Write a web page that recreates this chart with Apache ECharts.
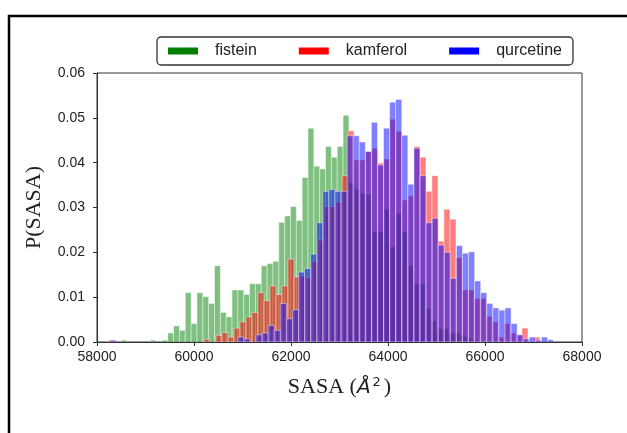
<!DOCTYPE html>
<html>
<head>
<meta charset="utf-8">
<script src="https://cdn.jsdelivr.net/npm/echarts@6/dist/echarts.min.js"></script>
<style>
html, body { margin: 0; padding: 0; background: #fff; }
#chart { width: 627px; height: 433px; }
</style>
</head>
<body>
<div id="chart"></div>
<script>
// histogram bins: first edge and width (SASA units), one set per molecule
var fisteinStart = 58495, fisteinWidth = 120.5;
var kamferolStart = 58227, kamferolWidth = 123.7;
var qurcetineStart = 58274, qurcetineWidth = 125.2;

var fistein = [
	0.0004, 0, 0, 0, 0, 0.0004, 0, 0.0004, 0.002, 0.0036,
	0.0026, 0.011, 0.0041, 0.011, 0.0101, 0.0086, 0.017, 0.0066, 0.0056, 0.0116,
	0.0116, 0.0106, 0.013, 0.013, 0.017, 0.0175, 0.018, 0.0267, 0.0281, 0.0302,
	0.0271, 0.0367, 0.0477, 0.0392, 0.0386, 0.0436, 0.0412, 0.0436, 0.0506, 0.0356,
	0.0341, 0.0332, 0.0328, 0.0246, 0.0246, 0.0296, 0.0212, 0.0287, 0.0246, 0.0171,
	0.013, 0.013, 0.0075, 0.0047, 0.003, 0.003, 0.002, 0.002, 0.0014, 0.001,
	0.0005
];
var kamferol = [
	0.0004, 0, 0, 0, 0, 0, 0, 0, 0, 0,
	0, 0, 0, 0, 0, 0, 0.0006, 0, 0.0015, 0.0021,
	0.0011, 0.0031, 0.0045, 0.0056, 0.0066, 0.011, 0.0092, 0.0125, 0.0106, 0.0125,
	0.0185, 0.0145, 0.0148, 0.0143, 0.018, 0.0228, 0.0302, 0.0302, 0.0312, 0.0371,
	0.0471, 0.0406, 0.0406, 0.0425, 0.0432, 0.0399, 0.0408, 0.0497, 0.047, 0.0317,
	0.0326, 0.0436, 0.0412, 0.0336, 0.0371, 0.0225, 0.0296, 0.0274, 0.0188, 0.0116,
	0.0116, 0.0097, 0.0097, 0.0057, 0.0045, 0.0011, 0.0041, 0.002, 0.0016, 0.0031,
	0, 0.0011
];
var qurcetine = [
	0.0004, 0, 0, 0, 0, 0, 0, 0, 0, 0,
	0, 0, 0, 0, 0, 0, 0, 0, 0, 0,
	0, 0.0011, 0.0007, 0, 0.0016, 0.002, 0.0037, 0.0026, 0.0086, 0.0052,
	0.0072, 0.0156, 0.0164, 0.0196, 0.0266, 0.0336, 0.034, 0.0336, 0.0336, 0.046,
	0.046, 0.0446, 0.0425, 0.049, 0.0395, 0.0477, 0.0535, 0.0541, 0.0461, 0.0352,
	0.0432, 0.0371, 0.0266, 0.0276, 0.0216, 0.02, 0.0142, 0.0215, 0.0198, 0.0201,
	0.0136, 0.011, 0.0086, 0.0076, 0.0071, 0.0076, 0.0041, 0.0016, 0.0007, 0.0011,
	0.0004, 0.0011, 0.0005
];

var xTicks = [58000, 60000, 62000, 64000, 66000, 68000];

function toBins(start, width, values) {
	var out = [];
	for (var i = 0; i < values.length; i++) {
		if (values[i] > 0) {
			out.push([start + i * width, start + (i + 1) * width, values[i]]);
		}
	}
	return out;
}

function histSeries(name, color, fill, data) {
	return {
		name: name,
		type: 'custom',
		data: data,
		itemStyle: { color: color },
		encode: { x: [0, 1], y: 2 },
		clip: true,
		renderItem: function (params, api) {
			var top = api.coord([api.value(0), api.value(2)]);
			var bottom = api.coord([api.value(1), 0]);
			return {
				type: 'rect',
				shape: { x: top[0], y: top[1], width: bottom[0] - top[0], height: bottom[1] - top[1] },
				style: { fill: fill, stroke: 'rgba(255,255,255,0.55)', lineWidth: 0.8 }
			};
		}
	};
}

var chart = echarts.init(document.getElementById('chart'));
var option = {
	animation: false,
	backgroundColor: '#fff',
	graphic: [{
		type: 'rect',
		shape: { x: 9, y: 16, width: 700, height: 500 },
		style: { fill: 'none', stroke: '#000', lineWidth: 2.5 },
		z: 10
	}],
	legend: {
		left: 157,
		top: 37,
		icon: 'rect',
		itemWidth: 30,
		itemHeight: 7,
		itemGap: 42,
		padding: [6, 11, 6, 11],
		borderColor: '#333',
		borderWidth: 1.3,
		borderRadius: 4,
		backgroundColor: '#fff',
		z: 20,
		textStyle: { fontFamily: 'Liberation Sans', fontSize: 16, color: '#222', padding: [0, 0, 0, 12] },
		data: ['fistein', 'kamferol', 'qurcetine']
	},
	grid: {
		left: 97, right: 45, top: 73, bottom: 91,
		show: true, borderColor: '#333', borderWidth: 1, backgroundColor: 'transparent'
	},
	xAxis: {
		type: 'value',
		min: xTicks[0],
		max: xTicks[xTicks.length - 1],
		interval: 2000,
		name: '{n|SASA (}{a|Å}{s|2}{n|)}',
		nameLocation: 'middle',
		nameGap: 34,
		nameTextStyle: {
			rich: {
				n: { fontFamily: 'Liberation Serif', fontSize: 22, color: '#222' },
				a: { fontFamily: 'DejaVu Sans', fontStyle: 'italic', fontSize: 20, color: '#222' },
				s: { fontFamily: 'DejaVu Sans', fontSize: 13, color: '#222', verticalAlign: 'top', padding: [0, 3, 10, 2] }
			}
		},
		splitLine: { show: false },
		axisLine: { onZero: false, lineStyle: { color: '#333', width: 1 } },
		axisTick: { length: 4, lineStyle: { color: '#333' } },
		axisLabel: {
			fontFamily: 'Liberation Sans', fontSize: 14, color: '#222', margin: 8,
			formatter: function (v) { return String(v); }
		}
	},
	yAxis: {
		type: 'value',
		min: 0,
		max: 0.06,
		interval: 0.01,
		name: 'P(SASA)',
		nameLocation: 'middle',
		nameGap: 52,
		nameTextStyle: { fontFamily: 'Liberation Serif', fontSize: 22, color: '#222' },
		splitLine: { show: false },
		axisLine: { show: true, lineStyle: { color: '#333', width: 1 } },
		axisTick: { show: true, length: 4, lineStyle: { color: '#333' } },
		axisLabel: {
			fontFamily: 'Liberation Sans', fontSize: 14, color: '#222', margin: 12,
			formatter: function (v) { return v.toFixed(2); }
		}
	},
	series: [
		histSeries('fistein', '#008000', 'rgba(0,128,0,0.5)', toBins(fisteinStart, fisteinWidth, fistein)),
		histSeries('kamferol', '#ff0000', 'rgba(255,0,0,0.5)', toBins(kamferolStart, kamferolWidth, kamferol)),
		histSeries('qurcetine', '#0000ff', 'rgba(0,0,255,0.5)', toBins(qurcetineStart, qurcetineWidth, qurcetine))
	]
};
chart.setOption(option);
</script>
</body>
</html>
